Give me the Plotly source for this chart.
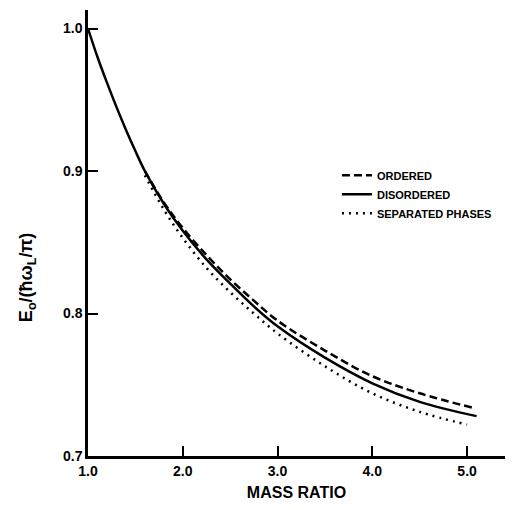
import plotly.graph_objects as go

# Mass ratio values and ground-state energy E0/(hbar*omega_L/pi)
x_disordered = [1.0, 1.1, 1.2, 1.3, 1.4, 1.5, 1.6, 1.8, 2.0, 2.25, 2.5, 2.75, 3.0, 3.5, 4.0, 4.5, 5.1]
y_disordered = [1.0, 0.980, 0.962, 0.945, 0.929, 0.914, 0.900, 0.877, 0.858, 0.838, 0.821, 0.805, 0.791, 0.769, 0.751, 0.738, 0.728]

x_ordered = [1.6, 1.8, 2.0, 2.25, 2.5, 2.75, 3.0, 3.5, 4.0, 4.5, 5.05]
y_ordered = [0.900, 0.878, 0.860, 0.841, 0.824, 0.809, 0.795, 0.774, 0.756, 0.744, 0.734]

x_separated = [1.6, 1.8, 2.0, 2.25, 2.5, 2.75, 3.0, 3.5, 4.0, 4.5, 5.0]
y_separated = [0.897, 0.873, 0.853, 0.832, 0.815, 0.800, 0.786, 0.763, 0.744, 0.731, 0.722]

x_ticks = [1.0, 2.0, 3.0, 4.0, 5.0]
x_ticklabels = ["1.0", "2.0", "3.0", "4.0", "5.0"]
y_ticks = [0.7, 0.8, 0.9, 1.0]
y_ticklabels = ["0.7", "0.8", "0.9", "1.0"]

fig = go.Figure()
fig.add_trace(go.Scatter(x=x_ordered, y=y_ordered, mode="lines", name="ORDERED",
                         line=dict(color="black", width=2.5, dash="8px,4px", shape="spline")))
fig.add_trace(go.Scatter(x=x_disordered, y=y_disordered, mode="lines", name="DISORDERED",
                         line=dict(color="black", width=2.5, shape="spline")))
fig.add_trace(go.Scatter(x=x_separated, y=y_separated, mode="lines", name="SEPARATED PHASES",
                         line=dict(color="black", width=2.5, dash="2px,5px", shape="spline")))

font_family = "Liberation Sans, Arial, sans-serif"

fig.update_layout(
    width=515, height=510,
    margin=dict(l=88, r=10, t=10, b=48),
    paper_bgcolor="white", plot_bgcolor="white",
    font=dict(family=font_family, color="black"),
    showlegend=True,
    legend=dict(x=0.597, y=0.662, xanchor="left", yanchor="top",
                font=dict(size=11, family=font_family, weight="bold"),
                bgcolor="rgba(0,0,0,0)", itemwidth=30, tracegroupgap=0),
    xaxis=dict(range=[1.0, 5.40], tickvals=x_ticks, ticktext=x_ticklabels,
               ticks="inside", ticklen=10, tickwidth=2, tickcolor="black",
               showline=True, linecolor="black", linewidth=2.5,
               showgrid=False, zeroline=False,
               tickfont=dict(size=14, weight="bold"),
               title=dict(text="MASS RATIO", font=dict(size=16, weight="bold"), standoff=10)),
    yaxis=dict(range=[0.7, 1.013], tickvals=y_ticks, ticktext=y_ticklabels,
               ticks="inside", ticklen=10, tickwidth=2, tickcolor="black",
               showline=True, linecolor="black", linewidth=2.5,
               showgrid=False, zeroline=False,
               tickfont=dict(size=14, weight="bold")),
)

fig.add_annotation(
    text="E<sub>o</sub>/(ħω<sub>L</sub>/π)",
    xref="paper", yref="paper", x=-0.145, y=0.4, textangle=-90,
    showarrow=False, font=dict(size=18, weight="bold", family=font_family),
    xanchor="center", yanchor="middle",
)

fig.write_html("out.html")
